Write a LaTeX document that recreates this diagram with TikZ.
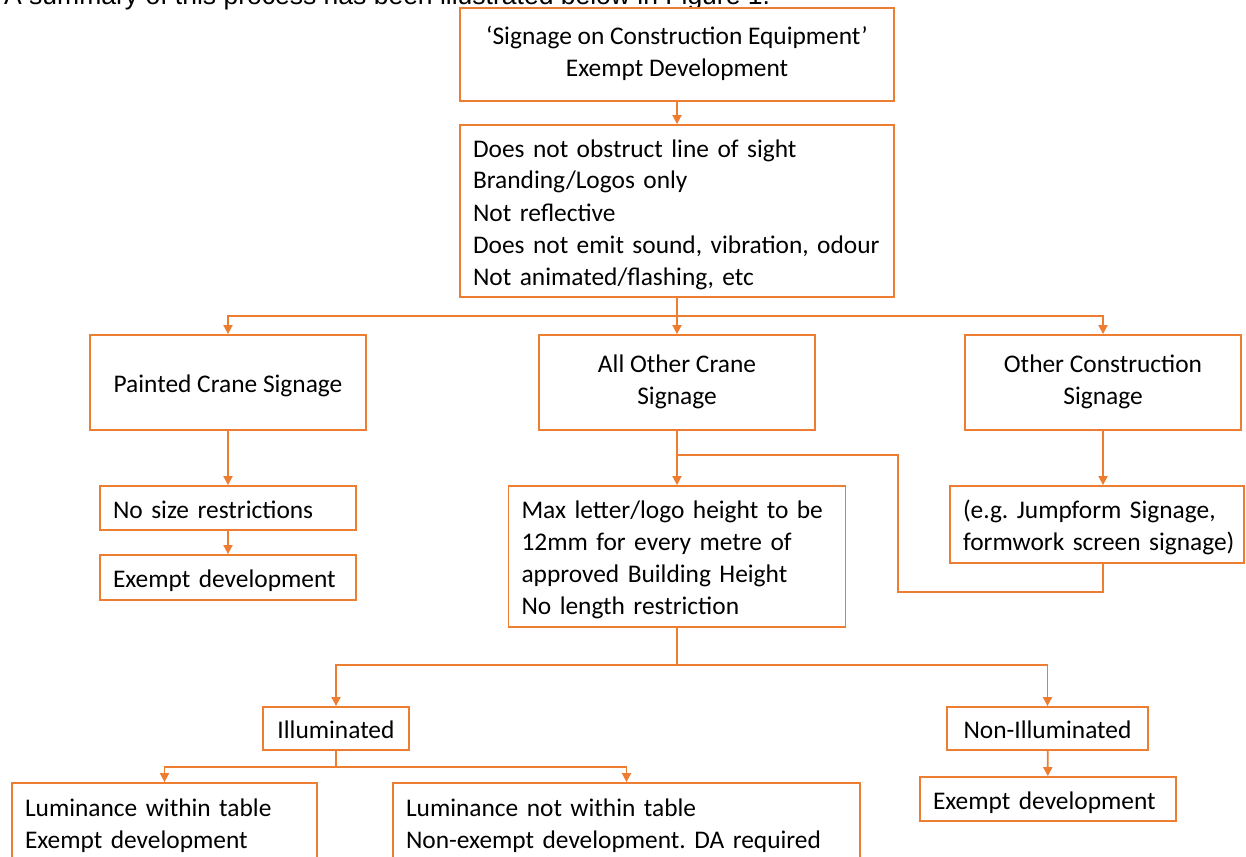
\documentclass[tikz,border=0pt]{standalone}
\usepackage{fontspec}
\setmainfont{Carlito}
\newfontfamily\capfont{Liberation Sans}
\usetikzlibrary{arrows.meta}
\definecolor{orc}{HTML}{ED7D31}
\frenchspacing
\begin{document}
\begin{tikzpicture}[x=1pt,y=-1pt,
  box/.style={draw=orc, line width=1.8pt, fill=white, inner sep=0pt,
    font=\fontsize{25.4}{32}\selectfont,
    execute at begin node={\hbadness=10000\relax\hfuzz=100pt\relax\rule{0pt}{26pt}},
    execute at end node={\rule[-6pt]{0pt}{0pt}}},
  cbox/.style={box, align=center},
  lbox/.style={box, align=left},
  conn/.style={draw=orc, line width=1.8pt},
  arr/.style={conn, -{Triangle[length=9pt,width=9pt]}}]
\useasboundingbox (0,0) rectangle (1246,856);
\clip (0,0) rectangle (1246,856);
\node[anchor=base west, font=\capfont\fontsize{26.5}{30}\selectfont, inner sep=0pt] (caption) at (4,4.5) {A summary of this process has been illustrated below in Figure 1.};
\node[cbox, minimum width=434pt, minimum height=93pt] (top) at (677,54.5) {‘Signage on Construction Equipment’\\Exempt Development};
\node[lbox, minimum width=434pt, minimum height=172pt, text width=408pt] (cond) at (677,211) {Does not obstruct line of sight\\Branding/Logos only\\Not reflective\\Does not emit sound, vibration, odour\\Not animated/flashing, etc};
\node[cbox, minimum width=276pt, minimum height=95pt] (painted) at (228,382.5) {Painted Crane Signage};
\node[cbox, minimum width=276pt, minimum height=95pt] (allother) at (677,382.5) {All Other Crane\\Signage};
\node[cbox, minimum width=276pt, minimum height=95pt] (otherc) at (1103,382.5) {Other Construction\\Signage};
\node[lbox, minimum width=256pt, minimum height=44pt, text width=230pt] (nosize) at (228,508) {No size restrictions};
\node[lbox, minimum width=256pt, minimum height=45pt, text width=230pt] (exempt1) at (228,577.5) {Exempt development};
\node[lbox, minimum width=337pt, minimum height=141pt, text width=311pt] (maxl) at (677,556.5) {Max letter/logo height to be\\12mm for every metre of\\approved Building Height\\No length restriction};
\node[lbox, minimum width=294pt, minimum height=77pt, text width=268pt] (eg) at (1097,524.5) {\mbox{(e.g. Jumpform Signage,}\\\mbox{formwork screen signage)}};
\node[cbox, minimum width=146pt, minimum height=43pt] (illum) at (336,728.5) {Illuminated};
\node[cbox, minimum width=201pt, minimum height=43pt] (nonillum) at (1047.5,728.5) {Non-Illuminated};
\node[lbox, minimum width=256pt, minimum height=44pt, text width=230pt] (exempt3) at (1048,799) {Exempt development};
\node[lbox, minimum width=305pt, minimum height=78pt, text width=279pt] (lum1) at (164.5,822) {Luminance within table\\Exempt development};
\node[lbox, minimum width=467pt, minimum height=78pt, text width=441pt] (lum2) at (626.5,822) {Luminance not within table\\Non-exempt development. DA required};
\coordinate (j1) at (677,316);
\coordinate (j2) at (677,455);
\coordinate (j3) at (898,592);
\coordinate (j4) at (677,665);
\coordinate (j5) at (336,767);
\draw[arr] (top) -- (cond);
\draw[arr] (cond.south) -- (allother.north);
\draw[arr] (j1) -| (painted.north);
\draw[arr] (j1) -| (otherc.north);
\draw[arr] (painted) -- (nosize);
\draw[arr] (nosize) -- (exempt1);
\draw[arr] (allother) -- (maxl);
\draw[conn] (j2) -| (j3) -| (otherc.south |- eg.south);
\draw[arr] (otherc.south) -- (otherc.south |- eg.north);
\draw[conn] (maxl.south) -- (j4);
\draw[arr] (j4) -| (illum.north);
\draw[arr] (j4) -| (nonillum.north);
\draw[arr] (nonillum) -- (exempt3);
\draw[conn] (illum.south) -- (j5);
\draw[arr] (j5) -| (lum1.north);
\draw[arr] (j5) -| (lum2.north);
\end{tikzpicture}
\end{document}
